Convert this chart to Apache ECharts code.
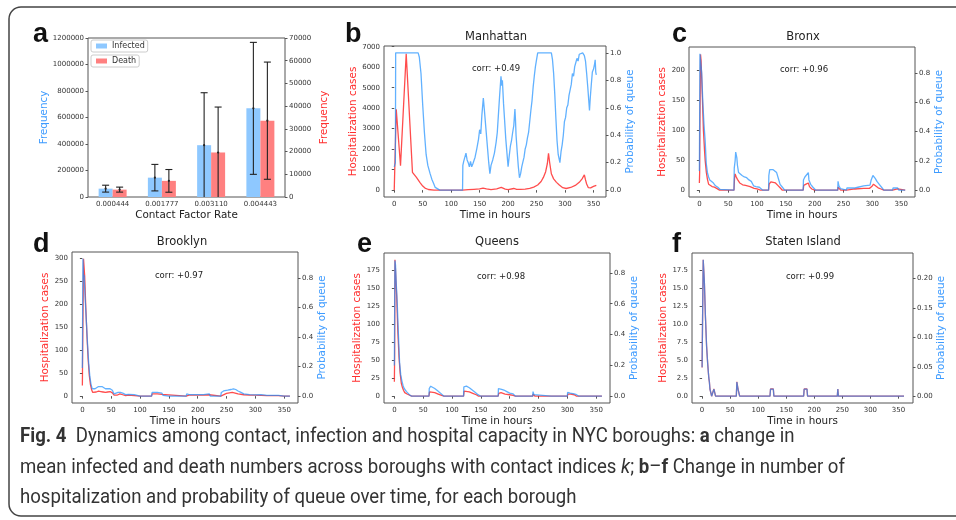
<!DOCTYPE html>
<html>
<head>
<meta charset="utf-8">
<script src="https://cdn.jsdelivr.net/npm/echarts@6/dist/echarts.min.js"></script>
<style>
  html, body { margin: 0; padding: 0; background: #fff; }
  #chart { width: 956px; height: 520px; }
</style>
</head>
<body>
<div id="chart"></div>
<script>
// panel a
const contactRates = ['0.000444', '0.001777', '0.003110', '0.004443'];
const infectedMean = [63000, 146000, 391000, 669000];
const infectedErr = [26000, 100000, 396000, 498000];
const deathMean = [3250, 7100, 19600, 33600];
const deathErr = [1100, 5000, 20000, 25800];

// tick labels
const hourTicks = [0, 50, 100, 150, 200, 250, 300, 350];
const manhattanTicks = [0, 1000, 2000, 3000, 4000, 5000, 6000, 7000];
const bronxTicks = [0, 50, 100, 150, 200];
const brooklynTicks = [0, 50, 100, 150, 200, 250, 300];
const queensTicks = [0, 25, 50, 75, 100, 125, 150, 175];
const statenTicks = [0, 2.5, 5, 7.5, 10, 12.5, 15, 17.5];
const probTicks = [0, 0.2, 0.4, 0.6, 0.8, 1.0];
const probTicksLow = [0, 0.2, 0.4, 0.6, 0.8];
const statenProbTicks = [0, 0.05, 0.1, 0.15, 0.2];

// [hour, value]
const manhattanHosp = [[0,0],[3.5,3950],[11,1190],[21,6650],[22.5,6700],[32,870],[39,620],[45,380],[50,200],[54,100],[60,30],[70,5],[80,0],[120,0],[130,20],[140,40],[150,60],[156,100],[162,60],[170,20],[180,60],[188,130],[195,50],[200,30],[210,80],[215,40],[222,40],[230,50],[238,90],[245,150],[252,250],[258,420],[262,620],[266,900],[269,1300],[271,1800],[273,1350],[276,800],[280,550],[285,380],[290,250],[296,120],[302,80],[310,130],[318,230],[325,380],[330,550],[334,750],[336,500],[338,300],[341,120],[345,110],[350,180],[355,230]];
const manhattanQueue = [[0,0.17],[2,0.2],[2.5,1.0],[42,1.0],[44,0.97],[47,0.85],[50,0.62],[53,0.42],[56,0.26],[59,0.18],[63,0.12],[66,0.08],[69,0.05],[72,0.02],[75,0.01],[80,0],[120,0],[120.5,0.18],[122,0.21],[124,0.2],[126,0.27],[128,0.22],[130,0.2],[132,0.17],[134,0.21],[136,0.17],[138,0.19],[140,0.2],[142,0.24],[145,0.3],[148,0.37],[150,0.44],[152,0.41],[154,0.55],[156.5,0.67],[158,0.6],[161,0.45],[164,0.3],[166,0.2],[168,0.12],[170,0.18],[173,0.22],[176,0.27],[179,0.35],[181,0.42],[183,0.55],[185,0.68],[187.5,0.83],[189,0.76],[190,0.8],[192,0.63],[194,0.5],[196,0.37],[198,0.27],[200,0.17],[202,0.25],[204,0.32],[206,0.36],[208,0.42],[210,0.47],[212,0.59],[213,0.51],[214,0.4],[216,0.28],[218,0.17],[220,0.09],[222,0.12],[224,0.17],[226,0.18],[228,0.24],[230,0.3],[232,0.33],[234,0.38],[236,0.42],[238,0.5],[240,0.58],[242,0.65],[244,0.75],[246,0.83],[248,0.9],[250,0.95],[252,1.0],[276,1.0],[278,0.95],[280,0.85],[282,0.7],[284,0.52],[286,0.36],[288,0.26],[291,0.2],[293,0.28],[295,0.33],[297,0.4],[299,0.5],[301,0.53],[303,0.6],[305,0.62],[307,0.69],[309,0.73],[311,0.77],[313,0.85],[315,0.83],[317,0.9],[319,0.93],[321,0.96],[323,0.94],[325,0.99],[327,1.0],[331,1.0],[334,0.98],[336,0.94],[338,0.85],[340,0.75],[343,0.58],[344.5,0.68],[346,0.76],[348,0.86],[350,0.88],[352,0.92],[353,0.95],[354,0.86],[355,0.84]];

const bronxHosp = [[0,12],[0.5,30],[1,120],[2,226],[3,215],[5,160],[7,100],[9,65],[10,50],[12,30],[14,18],[16,10],[18,8],[22,6],[26,5],[30,3],[35,0],[60,0],[61,20],[62,27],[64,22],[66,18],[70,12],[75,9],[80,8],[88,6],[95,3],[100,2],[106,0],[120,0],[121,10],[124,14],[128,13],[132,12],[136,8],[140,4],[144,0],[180,0],[181,8],[185,10],[189,12],[191,6],[195,2],[200,0],[240,0],[240.5,5],[242,3],[245,0],[255,0],[256,1],[270,2],[285,3],[295,3],[299,6],[302,10],[305,7],[310,4],[315,2],[320,0],[335,0],[336,2],[344,2],[345,0],[357,0]];
const bronxQueue = [[0,0.13],[0.5,0.5],[1,0.93],[2,0.93],[4,0.8],[6,0.6],[8,0.45],[10,0.34],[12,0.18],[14,0.12],[16,0.09],[18,0.07],[20,0.06],[24,0.05],[28,0.03],[32,0.02],[36,0.005],[38,0],[60,0],[60.5,0.15],[62,0.2],[63,0.26],[65,0.22],[66,0.17],[68,0.12],[70,0.11],[74,0.1],[78,0.09],[82,0.085],[86,0.07],[90,0.06],[94,0.03],[98,0.025],[104,0.02],[110,0],[120,0],[120.5,0.1],[122,0.14],[125,0.15],[128,0.14],[131,0.14],[134,0.12],[137,0.08],[140,0.04],[144,0.02],[148,0],[180,0],[180.5,0.07],[183,0.09],[186,0.1],[189,0.12],[190,0.07],[193,0.04],[197,0.02],[202,0],[240,0],[240.5,0.06],[242,0.03],[245,0.01],[248,0],[255,0],[256,0.015],[270,0.015],[275,0.02],[285,0.03],[296,0.035],[298,0.07],[301,0.1],[303,0.11],[305,0.08],[308,0.06],[312,0.04],[316,0.02],[320,0],[335,0],[336,0.015],[344,0.015],[346,0],[357,0]];

const brooklynHosp = [[0,23],[0.5,100],[2,298],[4,260],[6,190],[8,130],[10,80],[12,45],[14,25],[16,14],[18,8],[20,7],[24,9],[28,11],[32,10],[36,9],[40,8],[44,9],[48,10],[50,9],[52,7],[55,2],[60,2],[65,5],[70,3],[75,1],[80,2],[90,1],[100,0],[120,0],[121,5],[130,5],[138,4],[140,1],[180,0],[181,3],[185,2],[190,2],[200,2],[210,2],[220,3],[222,1],[240,0],[241,4],[250,6],[260,8],[270,5],[280,3],[290,2],[300,2],[320,1],[340,1],[350,0],[360,0]];
const brooklynQueue = [[0,0.19],[0.5,0.6],[1,0.93],[2,0.8],[3,0.82],[5,0.65],[7,0.5],[9,0.35],[11,0.22],[13,0.13],[15,0.08],[17,0.05],[20,0.04],[22,0.05],[25,0.06],[28,0.065],[31,0.07],[34,0.065],[37,0.055],[40,0.05],[44,0.05],[48,0.05],[50,0.055],[52,0.04],[55,0.015],[58,0.015],[62,0.025],[66,0.025],[70,0.02],[75,0.01],[80,0.012],[90,0.01],[100,0],[120,0],[121,0.025],[130,0.025],[138,0.02],[140,0.005],[150,0],[180,0],[181,0.015],[185,0.01],[200,0.01],[210,0.01],[220,0.015],[222,0],[240,0],[241,0.025],[245,0.035],[252,0.04],[258,0.045],[262,0.05],[266,0.045],[270,0.035],[275,0.025],[280,0.015],[290,0.01],[300,0.008],[310,0.01],[320,0.005],[340,0.005],[350,0],[360,0]];

const queensHosp = [[0,20],[0.5,60],[1,190],[2,175],[4,140],[6,90],[8,55],[10,32],[12,18],[14,12],[16,8],[18,5],[20,6],[22,3],[25,2],[30,0],[60,0],[61,6],[64,7],[70,5],[76,3],[82,1],[86,0],[120,0],[121,7],[124,8],[130,6],[136,4],[142,2],[146,0],[180,0],[181,4],[185,5],[192,3],[200,2],[206,1],[210,0],[240,0],[240.5,3],[242,1],[244,0],[300,0],[301,3],[306,3],[312,2],[316,0],[360,0]];
const queensQueue = [[0,0.2],[0.5,0.6],[1,0.88],[2,0.85],[3,0.75],[5,0.6],[7,0.4],[9,0.22],[11,0.14],[13,0.1],[15,0.07],[17,0.05],[19,0.055],[20,0.06],[21,0.03],[23,0.02],[26,0.01],[30,0],[60,0],[60.5,0.05],[63,0.065],[66,0.06],[70,0.05],[75,0.035],[80,0.02],[86,0],[120,0],[120.5,0.06],[122,0.07],[125,0.065],[130,0.055],[135,0.04],[140,0.025],[145,0.01],[150,0],[180,0],[180.5,0.05],[183,0.055],[186,0.045],[190,0.04],[195,0.03],[200,0.02],[206,0.015],[210,0],[240,0],[240.5,0.03],[242,0.01],[244,0],[272,0],[272.5,0.01],[274,0],[300,0],[300.5,0.025],[302,0.03],[305,0.02],[308,0.02],[312,0.015],[316,0.01],[320,0],[360,0]];

const statenHosp = [[0,4],[1,12],[2,19],[3,19],[4,16],[6,11],[8,7],[10,4.5],[12,2.5],[13,2],[14,1],[16,1],[17,0],[20,0],[21,1],[23,1],[24,0],[61,0],[62,2],[64,1],[66,1],[67,0],[121,0],[122,1],[127,1],[128,0],[181,0],[182,1],[187,1],[188,0],[241,0],[242,1],[243,0],[360,0]];
const statenQueue = [[0,0.049],[1,0.146],[2,0.232],[3,0.232],[4,0.195],[6,0.134],[8,0.085],[10,0.055],[12,0.031],[13,0.024],[14,0.012],[16,0.012],[17,0],[20,0],[21,0.012],[23,0.012],[24,0],[61,0],[62,0.024],[64,0.012],[66,0.012],[67,0],[121,0],[122,0.012],[127,0.012],[128,0],[181,0],[182,0.012],[187,0.012],[188,0],[241,0],[242,0.012],[243,0],[360,0]];

const FONT = 'DejaVu Sans';
const RED = '#ff0000';
const BLUE = '#1e90ff';
const RED_TEXT = '#ff2e2e';
const BLUE_TEXT = '#3d9bff';
const SPINE = '#555';

const linePanels = [
  { box: [384, 46, 222, 151], xMax: 372, hosp: manhattanHosp, queue: manhattanQueue,
    left: [-335, 7035], leftTicks: manhattanTicks, leftDigits: 0, leftGap: 26,
    right: [-0.05, 1.05], rightTicks: probTicks, rightDigits: 1, rightGap: 19 },
  { box: [689, 47, 226, 150], xMax: 374, hosp: bronxHosp, queue: bronxQueue,
    left: [-11.35, 238.35], leftTicks: bronxTicks, leftDigits: 0, leftGap: 20,
    right: [-0.0465, 0.9765], rightTicks: probTicksLow, rightDigits: 1, rightGap: 18 },
  { box: [72, 252, 226, 151], xMax: 374, hosp: brooklynHosp, queue: brooklynQueue,
    left: [-14.9, 312.9], leftTicks: brooklynTicks, leftDigits: 0, leftGap: 21,
    right: [-0.0465, 0.9765], rightTicks: probTicksLow, rightDigits: 1, rightGap: 17 },
  { box: [384, 253, 226, 150], xMax: 374, hosp: queensHosp, queue: queensQueue,
    left: [-9.5, 199.5], leftTicks: queensTicks, leftDigits: 0, leftGap: 21,
    right: [-0.044, 0.929], rightTicks: probTicksLow, rightDigits: 1, rightGap: 18 },
  { box: [692, 253, 221, 150], xMax: 376, hosp: statenHosp, queue: statenQueue,
    left: [-0.95, 19.95], leftTicks: statenTicks, leftDigits: 1, leftGap: 24,
    right: [-0.0116, 0.2435], rightTicks: statenProbTicks, rightDigits: 2, rightGap: 20 }
];

const tickLabel = { fontSize: 7, color: '#333', fontFamily: FONT };
const nameStyle = (color) => ({ fontSize: 10.4, color: color, fontFamily: FONT });

const grids = [];
const xAxes = [];
const yAxes = [];
const series = [];

// panel a
grids.push({ left: 88, top: 38, width: 197, height: 159, show: true, borderColor: SPINE, borderWidth: 1 });
xAxes.push({
  type: 'category', gridIndex: 0, data: contactRates,
  axisLine: { show: false }, splitLine: { show: false },
  axisTick: { alignWithLabel: true, length: 2.5, lineStyle: { color: SPINE } },
  axisLabel: Object.assign({ margin: 4 }, tickLabel),
  name: 'Contact Factor Rate', nameLocation: 'middle', nameGap: 13,
  nameTextStyle: nameStyle('#222')
});
yAxes.push({
  type: 'value', gridIndex: 0, min: 0, max: 1200000, interval: 200000,
  axisLine: { show: false }, splitLine: { show: false },
  axisTick: { show: true, length: 2.5, lineStyle: { color: SPINE } },
  axisLabel: Object.assign({ margin: 4, formatter: v => String(v) }, tickLabel),
  name: 'Frequency', nameLocation: 'middle', nameRotate: 90, nameGap: 37,
  nameTextStyle: nameStyle(BLUE_TEXT)
});
yAxes.push({
  type: 'value', gridIndex: 0, position: 'right', min: 0, max: 70000, interval: 10000,
  axisLine: { show: false }, splitLine: { show: false },
  axisTick: { show: true, length: 2.5, lineStyle: { color: SPINE } },
  axisLabel: Object.assign({ margin: 4, formatter: v => String(v) }, tickLabel),
  name: 'Frequency', nameLocation: 'middle', nameRotate: 90, nameGap: 34,
  nameTextStyle: nameStyle(RED_TEXT)
});
series.push({
  name: 'Infected', type: 'bar', xAxisIndex: 0, yAxisIndex: 0, data: infectedMean,
  barWidth: 14, barGap: '0%', itemStyle: { color: '#8ec8ff' }
});
series.push({
  name: 'Death', type: 'bar', xAxisIndex: 0, yAxisIndex: 1, data: deathMean,
  barWidth: 14, barGap: '0%', itemStyle: { color: '#ff8080' }
});

function errorBars(means, errs, yIndex, shift) {
  return {
    type: 'custom', xAxisIndex: 0, yAxisIndex: yIndex, clip: true, z: 10,
    data: means.map((m, i) => [i, m - errs[i], m + errs[i], m]),
    renderItem(params, api) {
      const lo = api.coord([api.value(0), api.value(1)]);
      const hi = api.coord([api.value(0), api.value(2)]);
      const mid = api.coord([api.value(0), api.value(3)]);
      const x = lo[0] + shift;
      const cap = 3.5;
      const st = { stroke: '#222', lineWidth: 1.1 };
      return {
        type: 'group',
        children: [
          { type: 'line', shape: { x1: x, y1: lo[1], x2: x, y2: hi[1] }, style: st },
          { type: 'line', shape: { x1: x - cap, y1: hi[1], x2: x + cap, y2: hi[1] }, style: st },
          { type: 'line', shape: { x1: x - cap, y1: lo[1], x2: x + cap, y2: lo[1] }, style: st },
          { type: 'circle', shape: { cx: x, cy: mid[1], r: 1.1 }, style: { fill: '#222' } }
        ]
      };
    }
  };
}
series.push(errorBars(infectedMean, infectedErr, 0, -7));
series.push(errorBars(deathMean, deathErr, 1, 7));

// panels b-f
linePanels.forEach((p, k) => {
  const g = k + 1;
  grids.push({ left: p.box[0], top: p.box[1], width: p.box[2], height: p.box[3],
    show: true, borderColor: SPINE, borderWidth: 1 });
  xAxes.push({
    type: 'value', gridIndex: g, min: -18, max: p.xMax,
    axisLine: { show: false }, splitLine: { show: false },
    axisTick: { customValues: hourTicks, length: 2.5, lineStyle: { color: SPINE } },
    axisLabel: Object.assign({ customValues: hourTicks, margin: 4 }, tickLabel),
    name: 'Time in hours', nameLocation: 'middle', nameGap: 13,
    nameTextStyle: nameStyle('#222')
  });
  const li = yAxes.length;
  yAxes.push({
    type: 'value', gridIndex: g, min: p.left[0], max: p.left[1],
    axisLine: { show: false }, splitLine: { show: false },
    axisTick: { customValues: p.leftTicks, length: 2.5, lineStyle: { color: SPINE } },
    axisLabel: Object.assign({ customValues: p.leftTicks, margin: 4,
      formatter: v => v.toFixed(p.leftDigits) }, tickLabel),
    name: 'Hospitalization cases', nameLocation: 'middle', nameRotate: 90, nameGap: p.leftGap,
    nameTextStyle: nameStyle(RED_TEXT)
  });
  yAxes.push({
    type: 'value', gridIndex: g, position: 'right', min: p.right[0], max: p.right[1],
    axisLine: { show: false }, splitLine: { show: false },
    axisTick: { customValues: p.rightTicks, length: 2.5, lineStyle: { color: SPINE } },
    axisLabel: Object.assign({ customValues: p.rightTicks, margin: 4,
      formatter: v => v.toFixed(p.rightDigits) }, tickLabel),
    name: 'Probability of queue', nameLocation: 'middle', nameRotate: 90, nameGap: p.rightGap,
    nameTextStyle: nameStyle(BLUE_TEXT)
  });
  series.push({
    type: 'line', xAxisIndex: g, yAxisIndex: li, data: p.hosp, symbol: 'none',
    lineStyle: { color: RED, width: 1.3, opacity: 0.7 }, z: 3
  });
  series.push({
    type: 'line', xAxisIndex: g, yAxisIndex: li + 1, data: p.queue, symbol: 'none',
    lineStyle: { color: BLUE, width: 1.3, opacity: 0.7 }, z: 4
  });
});

function label(text, x, y, size) {
  return { type: 'text', x: x, y: y, silent: true,
    style: { text: text, fontSize: size, fontFamily: FONT, fill: '#222',
      align: 'center', verticalAlign: 'middle' } };
}
// y is the bottom of the glyph box
function letter(text, x, y) {
  return { type: 'text', x: x, y: y, silent: true,
    style: { text: text, fontSize: 27, fontWeight: 'bold', fontFamily: 'Liberation Sans',
      fill: '#111', align: 'left', verticalAlign: 'bottom' } };
}

const capFont = { fontSize: 20, fontFamily: 'Roboto', fill: '#333' };
const capRich = {
  b: Object.assign({ fontWeight: 'bold' }, capFont),
  i: Object.assign({ fontStyle: 'italic' }, capFont)
};
function captionLine(text, y) {
  return { type: 'text', x: 20, y: y, scaleX: 0.93, silent: true,
    style: Object.assign({ text: text, rich: capRich, align: 'left', verticalAlign: 'middle' }, capFont) };
}

const graphics = [
  { type: 'rect', silent: true, shape: { x: 9, y: 7, width: 960, height: 509, r: 12 },
    style: { fill: 'none', stroke: '#444', lineWidth: 1.5 } },
  letter('a', 33, 48), letter('b', 345, 48), letter('c', 672, 48),
  letter('d', 33, 258), letter('e', 357, 258), letter('f', 672, 258),
  label('Manhattan', 496, 37, 11.5), label('Bronx', 803, 37, 11.5),
  label('Brooklyn', 182, 242, 11.5), label('Queens', 497, 242, 11.5),
  label('Staten Island', 803, 242, 11.5),
  label('corr: +0.49', 496, 69, 8.5), label('corr: +0.96', 804, 70, 8.5),
  label('corr: +0.97', 179, 276, 8.5), label('corr: +0.98', 501, 277, 8.5),
  label('corr: +0.99', 810, 277, 8.5),
  captionLine('{b|Fig. 4}  Dynamics among contact, infection and hospital capacity in NYC boroughs: {b|a} change in', 437),
  captionLine('mean infected and death numbers across boroughs with contact indices {i|k}; {b|b}\u2013{b|f} Change in number of', 468),
  captionLine('hospitalization and probability of queue over time, for each borough', 498)
];

const chart = echarts.init(document.getElementById('chart'));
chart.setOption({
  animation: false,
  backgroundColor: '#fff',
  textStyle: { fontFamily: FONT },
  legend: [
    { data: ['Infected'], left: 91, top: 40, orient: 'vertical', itemWidth: 11, itemHeight: 5,
      padding: [2, 3, 2, 5], borderColor: '#ccc', borderWidth: 1, borderRadius: 2,
      icon: 'rect', textStyle: { fontSize: 8, color: '#333', fontFamily: FONT }, selectedMode: false },
    { data: ['Death'], left: 91, top: 55, orient: 'vertical', itemWidth: 11, itemHeight: 5,
      padding: [2, 3, 2, 5], borderColor: '#ccc', borderWidth: 1, borderRadius: 2,
      icon: 'rect', textStyle: { fontSize: 8, color: '#333', fontFamily: FONT }, selectedMode: false }
  ],
  grid: grids,
  xAxis: xAxes,
  yAxis: yAxes,
  series: series,
  graphic: graphics
});
</script>
</body>
</html>
